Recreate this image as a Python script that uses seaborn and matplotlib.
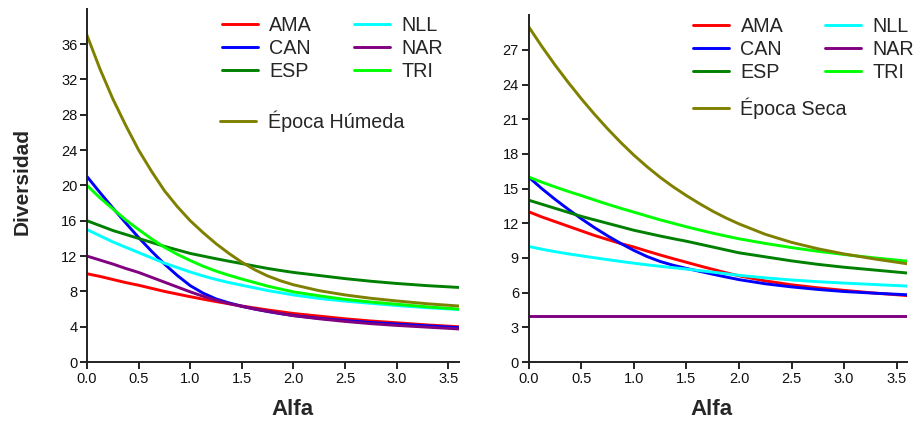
import numpy as np
import pandas as pd
import matplotlib
matplotlib.use("Agg")
import matplotlib.pyplot as plt
import seaborn as sns

# Orden de Rényi (alfa) en el que se leen los perfiles de diversidad
alfa = [0.0, 0.125, 0.25, 0.375, 0.5, 0.625, 0.75, 0.875, 1.0, 1.125, 1.25,
        1.375, 1.5, 1.625, 1.75, 1.875, 2.0, 2.25, 2.5, 2.75, 3.0, 3.3, 3.6]

sitios = ["AMA", "CAN", "ESP", "NLL", "NAR", "TRI"]
colores = ["#FF0000", "#0000FF", "#008000", "#00FFFF", "#800080", "#00FF00"]
color_epoca = "#808000"

# Época húmeda
hum_AMA = [10.0, 9.7, 9.35, 9.0, 8.7, 8.35, 8.0, 7.7, 7.4, 7.12, 6.85,
           6.6, 6.35, 6.12, 5.9, 5.7, 5.5, 5.2, 4.9, 4.65, 4.45, 4.2, 4.0]
hum_CAN = [21.0, 19.2, 17.45, 15.75, 14.1, 12.55, 11.1, 9.8, 8.65, 7.8, 7.15,
           6.7, 6.32, 6.0, 5.72, 5.48, 5.27, 4.95, 4.7, 4.48, 4.3, 4.1, 3.9]
hum_ESP = [16.0, 15.45, 14.9, 14.45, 14.0, 13.55, 13.1, 12.7, 12.3, 12.0, 11.7,
           11.42, 11.15, 10.87, 10.6, 10.37, 10.15, 9.8, 9.45, 9.15, 8.9, 8.65, 8.45]
hum_NLL = [15.0, 14.3, 13.6, 13.0, 12.4, 11.8, 11.2, 10.7, 10.2, 9.75, 9.35,
           9.0, 8.7, 8.4, 8.1, 7.85, 7.6, 7.2, 6.9, 6.65, 6.4, 6.15, 5.95]
hum_NAR = [12.0, 11.55, 11.1, 10.6, 10.15, 9.6, 9.05, 8.5, 7.95, 7.45, 7.0,
           6.62, 6.3, 6.0, 5.75, 5.5, 5.25, 4.9, 4.6, 4.35, 4.15, 3.95, 3.75]
hum_TRI = [20.0, 18.6, 17.35, 16.1, 15.0, 13.95, 13.0, 12.2, 11.5, 10.85, 10.3,
           9.83, 9.4, 9.0, 8.6, 8.27, 7.95, 7.5, 7.1, 6.8, 6.55, 6.25, 6.0]
hum_total = [37.0, 33.2, 29.8, 26.8, 24.0, 21.6, 19.4, 17.6, 16.0, 14.65, 13.4,
             12.3, 11.3, 10.45, 9.75, 9.2, 8.75, 8.08, 7.6, 7.22, 6.92, 6.6, 6.35]

# Época seca
sec_AMA = [13.0, 12.55, 12.15, 11.75, 11.35, 10.95, 10.6, 10.25, 9.95, 9.6, 9.26,
           8.94, 8.63, 8.32, 8.02, 7.73, 7.46, 7.02, 6.68, 6.42, 6.2, 5.96, 5.75]
sec_CAN = [16.0, 15.0, 14.08, 13.22, 12.4, 11.63, 10.92, 10.26, 9.66, 9.13, 8.7,
           8.37, 8.1, 7.85, 7.6, 7.36, 7.13, 6.77, 6.5, 6.28, 6.1, 5.95, 5.82]
sec_ESP = [14.0, 13.65, 13.3, 12.95, 12.6, 12.3, 12.0, 11.7, 11.4, 11.15, 10.9,
           10.67, 10.45, 10.2, 9.95, 9.7, 9.45, 9.1, 8.75, 8.45, 8.2, 7.95, 7.7]
sec_NLL = [10.0, 9.76, 9.55, 9.36, 9.19, 9.02, 8.86, 8.7, 8.55, 8.41, 8.28,
           8.16, 8.04, 7.91, 7.78, 7.64, 7.5, 7.28, 7.1, 6.95, 6.83, 6.7, 6.57]
sec_NAR = [4.0, 4.0, 4.0, 4.0, 4.0, 4.0, 4.0, 4.0, 4.0, 4.0, 4.0,
           4.0, 4.0, 4.0, 4.0, 4.0, 4.0, 4.0, 4.0, 4.0, 4.0, 4.0, 4.0]
sec_TRI = [16.0, 15.56, 15.15, 14.76, 14.4, 14.02, 13.65, 13.3, 12.97, 12.63, 12.3,
           12.0, 11.7, 11.42, 11.15, 10.9, 10.66, 10.26, 9.9, 9.58, 9.3, 9.0, 8.73]
sec_total = [29.0, 27.3, 25.7, 24.2, 22.78, 21.44, 20.18, 19.0, 17.9, 16.9, 15.98,
             15.15, 14.4, 13.7, 13.05, 12.47, 11.95, 11.05, 10.35, 9.8, 9.35, 8.9, 8.5]

paneles = [
    dict(series=[hum_AMA, hum_CAN, hum_ESP, hum_NLL, hum_NAR, hum_TRI],
         total=hum_total, epoca="Época Húmeda", ymax=40, yticks=np.arange(0, 37, 4)),
    dict(series=[sec_AMA, sec_CAN, sec_ESP, sec_NLL, sec_NAR, sec_TRI],
         total=sec_total, epoca="Época Seca", ymax=30, yticks=np.arange(0, 28, 3)),
]

sns.set_style("ticks")
plt.rcParams["font.family"] = ["Liberation Sans", "DejaVu Sans"]

fig = plt.figure(figsize=(9.21, 4.21), dpi=100)
ax1 = fig.add_axes([0.0945, 0.140, 0.4035, 0.839])
ax2 = fig.add_axes([0.574, 0.140, 0.411, 0.824])

ajustes = [
    dict(leg1=(0.362, 0.980), leg2=(0.358, 0.712), xlab=0.554, xlab_y=-0.104),
    dict(leg1=(0.434, 0.995), leg2=(0.434, 0.762), xlab=0.484, xlab_y=-0.106),
]

leg_kw = dict(frameon=False, fontsize=14.2, handlelength=1.83,
              handletextpad=0.58, borderpad=0, borderaxespad=0, loc="upper left")

for ax, p, aj in zip([ax1, ax2], paneles, ajustes):
    df = pd.DataFrame({
        "alfa": np.tile(alfa, len(sitios)),
        "div": np.concatenate(p["series"]),
        "sitio": np.repeat(sitios, len(alfa)),
    })
    sns.lineplot(data=df, x="alfa", y="div", hue="sitio", hue_order=sitios,
                 palette=colores, linewidth=2.1, estimator=None, sort=False,
                 legend=False, ax=ax)
    dft = pd.DataFrame({"alfa": alfa, "div": p["total"]})
    sns.lineplot(data=dft, x="alfa", y="div", color=color_epoca, linewidth=2.1,
                 estimator=None, sort=False, legend=False, ax=ax)

    lineas = ax.get_lines()
    leg = ax.legend(lineas[:6], sitios, ncol=2, bbox_to_anchor=aj["leg1"],
                    labelspacing=0.2, columnspacing=2.13, **leg_kw)
    ax.add_artist(leg)
    ax.legend([lineas[6]], [p["epoca"]], bbox_to_anchor=aj["leg2"], **leg_kw)

    ax.set_xlim(0, 3.6)
    ax.set_ylim(0, p["ymax"])
    ax.set_xticks(np.arange(0, 3.51, 0.5))
    ax.set_xticklabels([f"{v:.1f}" for v in np.arange(0, 3.51, 0.5)])
    ax.set_yticks(p["yticks"])
    ax.tick_params(axis="both", labelsize=10.5, length=5, width=1.4,
                   color="#222222", labelcolor="#111111", pad=2)
    for s in ["left", "bottom"]:
        ax.spines[s].set_linewidth(1.4)
        ax.spines[s].set_color("#222222")
    sns.despine(ax=ax)
    ax.set_xlabel("Alfa", fontsize=16, fontweight="bold")
    ax.xaxis.set_label_coords(aj["xlab"], aj["xlab_y"])
    ax.set_ylabel("")

ax1.set_ylabel("Diversidad", fontsize=15, fontweight="bold")
ax1.yaxis.set_label_coords(-0.15, 0.51)

fig.savefig("out.png", dpi=100)
